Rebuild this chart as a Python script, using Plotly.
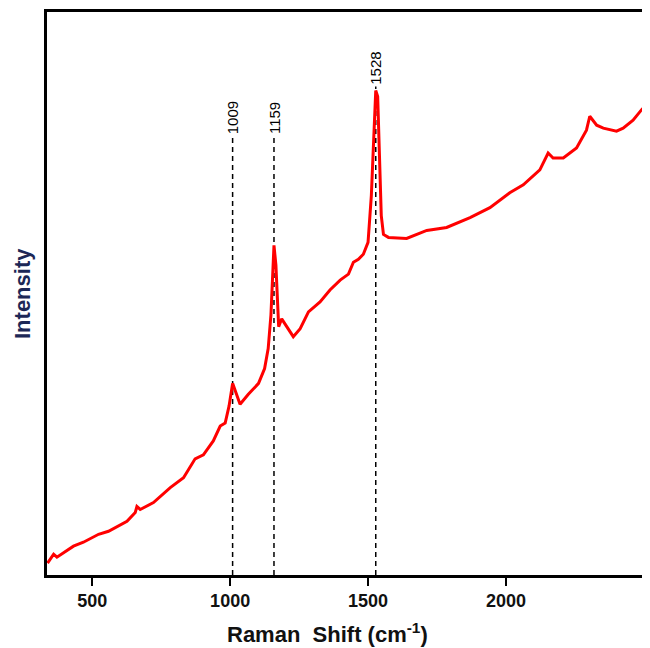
import plotly.graph_objects as go

# Raman spectrum (arbitrary intensity units)
wavenumber = [338, 360, 372, 432, 468, 523, 559, 626, 656, 662, 674, 722, 783, 831,
              873, 903, 939, 964, 982, 996, 1009, 1036, 1066, 1103, 1125, 1138, 1148,
              1159, 1166, 1176, 1187, 1205, 1229, 1254, 1284, 1326, 1362, 1399, 1429,
              1447, 1465, 1483, 1500, 1512, 1520, 1528, 1535, 1542, 1548, 1556, 1574,
              1640, 1713, 1785, 1870, 1942, 2014, 2063, 2123, 2153, 2171, 2208, 2256,
              2292, 2304, 2329, 2353, 2401, 2425, 2461, 2496]
intensity = [10, 19, 16, 27, 31, 39, 42, 52, 61, 67, 64, 71, 86, 96,
             115, 119, 133, 148, 151, 168, 191, 170, 180, 191, 206, 226, 260,
             330, 310, 248, 256, 248, 238, 246, 263, 273, 285, 295, 301,
             313, 316, 321, 333, 380, 440, 486, 480, 400, 360, 341, 338,
             337, 345, 348, 358, 368, 383, 391, 406, 423, 418, 418, 428,
             446, 460, 451, 448, 445, 448, 456, 468]

peak_positions = [1009, 1159, 1528]
peak_labels = ["1009", "1159", "1528"]
peak_line_tops = [440, 440, 490]

x_ticks = [500, 1000, 1500, 2000]

fig = go.Figure()
fig.add_trace(go.Scatter(x=wavenumber, y=intensity, mode="lines",
                         line=dict(color="#ff0000", width=3), showlegend=False))

for pos, lab, top in zip(peak_positions, peak_labels, peak_line_tops):
    fig.add_shape(type="line", xref="x", yref="y", x0=pos, x1=pos, y0=-2, y1=top,
                  line=dict(color="black", width=1.5, dash="5px,4px"), layer="below")
    fig.add_annotation(x=pos, y=top, xref="x", yref="y", text=lab, showarrow=False,
                       textangle=-90, xanchor="center", yanchor="bottom",
                       font=dict(family="Liberation Sans, Arial", size=15, color="black"))

fig.add_annotation(text="Intensity", xref="paper", yref="paper", x=0, y=0.5,
                   xanchor="left", yanchor="middle", xshift=-39, textangle=-90,
                   showarrow=False,
                   font=dict(family="Liberation Sans, Arial", size=22, color="#1c2756",
                             weight="bold"))
fig.add_annotation(text="Raman  Shift (cm<sup>-1</sup>)", xref="paper", yref="paper",
                   x=(327 - 47) / 596, y=0, xanchor="center", yanchor="top", yshift=-42,
                   showarrow=False,
                   font=dict(family="Liberation Sans, Arial", size=22, color="#111111",
                             weight="bold"))

fig.update_layout(
    width=642, height=640,
    margin=dict(l=39, r=7, t=1, b=73),
    paper_bgcolor="white", plot_bgcolor="white",
    xaxis=dict(range=[336, 2497], tickvals=x_ticks, ticktext=[str(t) for t in x_ticks],
               ticks="outside", ticklen=8, tickwidth=2, tickcolor="black",
               showline=True, linecolor="black", linewidth=2.5, mirror=True,
               showgrid=False, zeroline=False,
               tickfont=dict(family="Liberation Sans, Arial", size=18, color="#111111",
                             weight="bold")),
    yaxis=dict(range=[-2, 565], showticklabels=False, ticks="",
               showline=True, linecolor="black", linewidth=2.5, mirror=True,
               showgrid=False, zeroline=False),
)

fig.write_html("out.html")
